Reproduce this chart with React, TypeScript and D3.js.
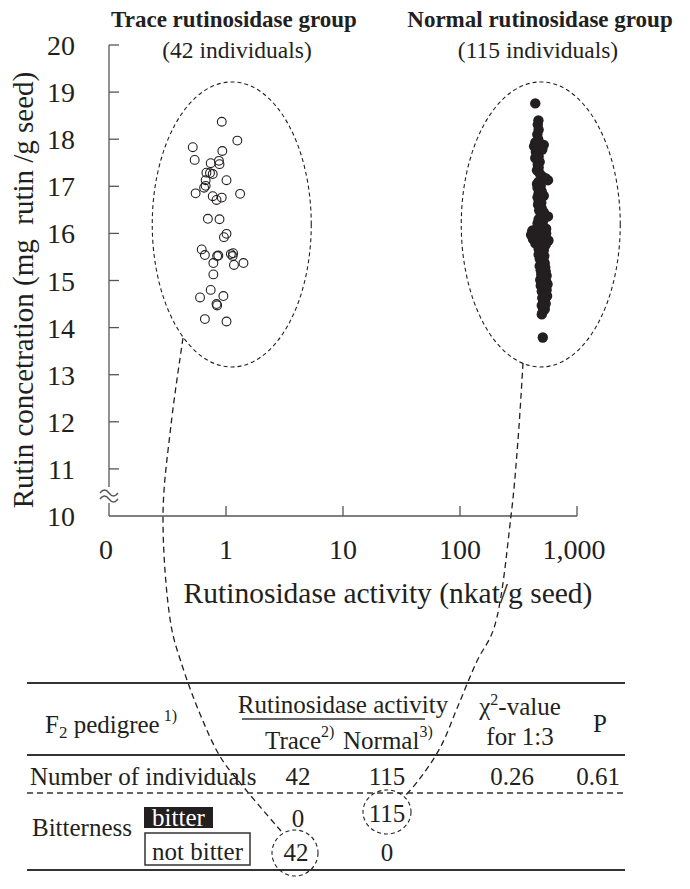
import React from "react";
import * as d3 from "d3";

// ---- Data ----
const traceX = [0.92, 1.25, 0.52, 0.93, 0.54, 0.74, 0.87, 0.88, 0.68, 0.73, 0.77, 0.67, 1.01, 0.67, 0.65, 0.55, 1.32, 0.77, 0.92, 0.83, 0.70, 0.88, 1.01, 0.96, 0.62, 0.66, 0.86, 0.84, 1.10, 1.15, 1.14, 0.78, 1.17, 1.41, 0.78, 0.74, 0.60, 0.95, 0.84, 0.83, 0.66, 1.01];
const traceY = [18.37, 17.97, 17.83, 17.75, 17.56, 17.49, 17.54, 17.47, 17.29, 17.28, 17.26, 17.13, 17.13, 17.01, 16.97, 16.85, 16.84, 16.79, 16.76, 16.71, 16.31, 16.30, 15.99, 15.92, 15.66, 15.54, 15.53, 15.52, 15.56, 15.58, 15.52, 15.37, 15.33, 15.37, 15.13, 14.80, 14.64, 14.67, 14.47, 14.50, 14.18, 14.13];

const normalY = [18.76, 18.40, 18.31, 18.20, 18.10, 18.00, 17.93, 17.88, 17.85, 17.81, 17.78, 17.73, 17.69, 17.64, 17.57, 17.52, 17.46, 17.40, 17.34, 17.28, 17.22, 17.17, 17.13, 17.10, 17.05, 17.01, 16.97, 16.93, 16.89, 16.85, 16.81, 16.77, 16.73, 16.69, 16.65, 16.61, 16.57, 16.53, 16.49, 16.45, 16.42, 16.39, 16.36, 16.33, 16.30, 16.27, 16.24, 16.21, 16.18, 16.15, 16.12, 16.09, 16.06, 16.03, 16.00, 15.97, 15.94, 15.91, 15.88, 15.85, 15.82, 15.79, 15.76, 15.73, 15.70, 15.67, 15.64, 15.61, 15.58, 15.55, 15.52, 15.49, 15.46, 15.43, 15.40, 15.37, 15.34, 15.31, 15.28, 15.25, 15.22, 15.19, 15.16, 15.13, 15.10, 15.07, 15.04, 15.01, 14.98, 14.95, 14.92, 14.89, 14.86, 14.83, 14.80, 14.77, 14.74, 14.71, 14.67, 14.63, 14.59, 14.55, 14.51, 14.47, 14.43, 14.39, 14.34, 14.28, 13.79, 17.90, 17.60, 16.80, 16.10, 15.30, 14.90];
const normalX = [440, 468, 462, 470, 458, 466, 440, 520, 430, 475, 505, 445, 462, 470, 455, 480, 462, 470, 455, 478, 500, 540, 565, 470, 455, 490, 460, 475, 500, 470, 488, 460, 480, 470, 495, 465, 485, 500, 475, 520, 490, 530, 565, 505, 470, 480, 510, 460, 495, 475, 520, 455, 415, 500, 545, 405, 520, 470, 420, 570, 495, 440, 540, 480, 510, 470, 520, 490, 505, 470, 525, 500, 480, 515, 495, 530, 505, 480, 535, 515, 490, 540, 510, 495, 550, 500, 525, 485, 545, 510, 560, 490, 530, 515, 550, 500, 535, 520, 555, 505, 530, 515, 540, 500, 525, 530, 510, 500, 510, 455, 440, 520, 545, 525, 520];

const yTicks = [10, 11, 12, 13, 14, 15, 16, 17, 18, 19, 20];
const xTicks = [1, 10, 100, 1000];
const xTickLabels = ["1", "10", "100", "1,000"];

const groupTitles = ["Trace rutinosidase group", "Normal rutinosidase group"];
const groupCounts = ["(42 individuals)", "(115 individuals)"];
const groupCenters = [1.12, 490];

const tableRowCounts = ["42", "115", "0.26", "0.61"];
const bitterVals = ["0", "115"];
const notBitterVals = ["42", "0"];

const FONT = "'Liberation Serif', Tinos, 'Times New Roman', 'DejaVu Serif', serif";
const INK = "#231f20";
const AX = "#555";

export default function App() {
  const x = d3.scaleLog().domain([1, 1000]).range([226, 577]);
  const y = d3.scaleLinear().domain([10, 20]).range([516, 45]);
  const x0 = x(0.1);
  const yBot = y(10);

  const line = d3.line<[number, number]>().curve(d3.curveCatmullRom.alpha(0.5));
  const leftConn: [number, number][] = [
    [183, 338], [171, 425], [163, 516], [171, 625], [181, 662], [200, 714], [221, 758], [246, 790], [281, 831],
  ];
  const rightConn: [number, number][] = [
    [523, 363], [518, 440], [511, 516], [494, 628], [477, 661], [458, 706], [440, 748], [418, 781], [404, 797],
  ];

  const tableCols = [298, 387, 512, 598];

  return (
    <svg width={690} height={889} style={{ position: "absolute", left: 0, top: 0, background: "#fff", fontFamily: FONT }}
      fill={INK}>
      <rect x={0} y={0} width={690} height={889} fill="#fff" />

      {/* group titles */}
      {groupTitles.map((t, i) => (
        <g key={t}>
          <text x={i === 0 ? 234 : 540} y={27} fontSize={23} fontWeight="bold" textAnchor="middle">{t}</text>
          <text x={i === 0 ? 237 : 538} y={58} fontSize={23.5} textAnchor="middle">{groupCounts[i]}</text>
        </g>
      ))}

      {/* axes */}
      <g stroke={AX} strokeWidth={1.3} fill="none">
        <line x1={x0} x2={x0} y1={y(20)} y2={487} />
        <line x1={x0} x2={x0} y1={503} y2={yBot} />
        <line x1={x0} x2={x(1000)} y1={yBot} y2={yBot} />
        {yTicks.filter((t) => t > 10).map((t) => (
          <line key={t} x1={x0} x2={x0 + 10} y1={y(t)} y2={y(t)} />
        ))}
        {xTicks.map((t) => (
          <line key={t} x1={x(t)} x2={x(t)} y1={yBot} y2={yBot - 10} />
        ))}
        <path d={`M100,493 q4.5,-6 9,0 t9,0`} />
        <path d={`M100,499 q4.5,-6 9,0 t9,0`} />
      </g>

      {yTicks.map((t) => (
        <text key={t} x={75} y={y(t) + 10} fontSize={28} textAnchor="end">{t}</text>
      ))}
      <text x={x0 - 3} y={559} fontSize={28} textAnchor="middle">0</text>
      {xTicks.map((t, i) => (
        <text key={t} x={x(t) + (i === 3 ? -3 : 0)} y={559} fontSize={28} textAnchor="middle">{xTickLabels[i]}</text>
      ))}
      <text x={388} y={603} fontSize={29.5} textAnchor="middle">Rutinosidase activity (nkat/g seed)</text>
      <text transform="translate(33,290) rotate(-90)" fontSize={29} textAnchor="middle" style={{ whiteSpace: "pre" }}>Rutin concetration (mg  rutin /g seed)</text>

      {/* ellipses */}
      {groupCenters.map((c) => (
        <ellipse key={c} cx={x(c)} cy={y(16.19)} rx={79.5} ry={142.5} fill="none" stroke={INK}
          strokeWidth={1.1} strokeDasharray="4,3" />
      ))}

      {/* points */}
      {traceX.map((v, i) => (
        <circle key={"t" + i} cx={x(v)} cy={y(traceY[i])} r={4.4} fill="none" stroke={INK} strokeWidth={1.1} />
      ))}
      {normalX.map((v, i) => (
        <circle key={"n" + i} cx={x(v)} cy={y(normalY[i])} r={5.2} fill={INK} />
      ))}

      {/* connectors */}
      <path d={line(leftConn) || ""} fill="none" stroke={INK} strokeWidth={1.3} strokeDasharray="6,4" />
      <path d={line(rightConn) || ""} fill="none" stroke={INK} strokeWidth={1.3} strokeDasharray="6,4" />

      {/* table */}
      <g stroke="#333" fill="none">
        <line x1={27} x2={625} y1={683} y2={683} strokeWidth={2} />
        <line x1={27} x2={625} y1={755} y2={755} strokeWidth={2} />
        <line x1={27} x2={625} y1={793} y2={793} strokeWidth={1.5} strokeDasharray="6,4" />
        <line x1={27} x2={625} y1={870} y2={870} strokeWidth={2} />
        <line x1={242} x2={425} y1={719} y2={719} strokeWidth={1.5} />
        <circle cx={295} cy={853} r={23} strokeWidth={1.1} strokeDasharray="4,3" stroke={INK} />
        <ellipse cx={387} cy={812} rx={24} ry={22} strokeWidth={1.1} strokeDasharray="4,3" stroke={INK} />
      </g>

      <g fontSize={25}>
        <text x={45} y={733}>F<tspan fontSize={17} dy={5}>2</tspan><tspan dy={-5}> pedigree</tspan><tspan fontSize={16} dy={-12}> 1)</tspan></text>
        <text x={343} y={713} textAnchor="middle">Rutinosidase activity</text>
        <text x={265} y={749}>Trace<tspan fontSize={16} dy={-12}>2)</tspan></text>
        <text x={343} y={749}>Normal<tspan fontSize={16} dy={-12}>3)</tspan></text>
        <text x={520} y={715} textAnchor="middle">χ<tspan fontSize={16} dy={-10}>2</tspan><tspan dy={10}>-value</tspan></text>
        <text x={520} y={745} textAnchor="middle">for 1:3</text>
        <text x={600} y={732} textAnchor="middle">P</text>

        <text x={30} y={785}>Number of individuals</text>
        {tableRowCounts.map((v, i) => (
          <text key={"r" + i} x={tableCols[i]} y={785} textAnchor="middle">{v}</text>
        ))}

        <text x={32} y={836}>Bitterness</text>
        <rect x={144} y={807} width={69} height={21} fill={INK} />
        <text x={178.5} y={826} textAnchor="middle" fill="#fff">bitter</text>
        <rect x={145} y={833} width={105} height={32} fill="none" stroke="#333" strokeWidth={1.5} />
        <text x={197.5} y={860} textAnchor="middle">not bitter</text>
        {bitterVals.map((v, i) => (
          <text key={"b" + i} x={tableCols[i]} y={i === 0 ? 827 : 822} textAnchor="middle">{v}</text>
        ))}
        {notBitterVals.map((v, i) => (
          <text key={"nb" + i} x={tableCols[i] - (i === 0 ? 2 : 0)} y={861} textAnchor="middle">{v}</text>
        ))}
      </g>
    </svg>
  );
}
